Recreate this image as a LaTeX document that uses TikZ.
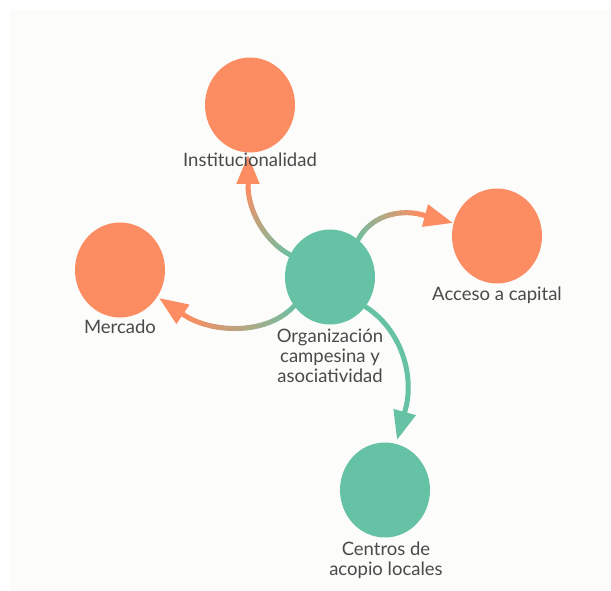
\documentclass[tikz,border=0pt]{standalone}
\usepackage{fontspec}
\setmainfont{Lato}
\usetikzlibrary{shapes.geometric,arrows.meta,decorations.markings}

\definecolor{setgreen}{HTML}{66C2A5}
\definecolor{setorange}{HTML}{FC8D62}
\definecolor{labelgray}{HTML}{4A4A4A}
\definecolor{paper}{HTML}{FCFCFA}

\tikzset{
  factor/.style={ellipse, minimum width=90pt, minimum height=95pt, inner sep=0pt, fill=#1},
  tag/.style={anchor=base, align=center, text=labelgray, inner sep=0pt,
    font=\fontsize{18.5}{20}\selectfont},
  fade/.style={line width=5pt, line cap=round},
  link/.style={line width=5pt, draw=#1, fill=#1, -{Triangle[length=29pt,width=22pt]}},
  ticks/.style={postaction=decorate, decoration={markings,
    mark=between positions 0 and 0.96 step 0.05 with
    {\coordinate (#1\pgfkeysvalueof{/pgf/decoration/mark info/sequence number});}}}
}

\begin{document}
\begin{tikzpicture}[x=1pt, y=-1pt]

\useasboundingbox (0,0) rectangle (611,591);
\fill[paper] (10,10) rectangle (611,591);

\node[factor=setorange] (inst) at (250,105) {};
\node[factor=setorange] (merc) at (120,270) {};
\node[factor=setorange] (acc) at (497,236) {};
\node[factor=setgreen] (org) at (330,277) {};
\node[factor=setgreen] (cen) at (385,490) {};

\coordinate (instbase) at (248,185);
\coordinate (insttip) at (248,155);
\coordinate (accbase) at (423,215);
\coordinate (acctip) at (453,223);
\coordinate (mercbase) at (184,315);
\coordinate (merctip) at (159,298);
\coordinate (cenbase) at (405,411);
\coordinate (centip) at (397,440);

% curves, green fading to orange
\path[ticks=a] (org.151) .. controls (266,242) and (248,212) .. (instbase);
\path[ticks=b] (org.53) .. controls (372,214) and (402,209) .. (accbase);
\path[ticks=c] (org.219) .. controls (265,337) and (209,332) .. (mercbase);

\foreach \e/\b in {a/instbase, b/accbase, c/mercbase}{
  \foreach \i [remember=\i as \j (initially 1), evaluate=\i as \p using {int(5*(\i-1))}] in {2,...,20}
    \draw[fade, setorange!\p!setgreen] (\e\j) -- (\e\i);
  \draw[fade, setorange] (\e20) -- (\b);
}
\draw[fade, setgreen] (org.320) .. controls (402,330) and (415,377) .. (cenbase);

\draw[link=setorange] (instbase) -- (insttip);
\draw[link=setorange] (accbase) -- (acctip);
\draw[link=setorange] (mercbase) -- (merctip);
\draw[link=setgreen] (cenbase) -- (centip);

\node[tag] (instlbl) at (250,167) {Institucionalidad};
\node[tag] (merclbl) at (120,333) {Mercado};
\node[tag] (acclbl) at (497,300) {Acceso a capital};
\node[tag] (orglbl) at (330,382) {Organización\\campesina y\\asociatividad};
\node[tag] (cenlbl) at (386,575) {Centros de\\acopio locales};

\end{tikzpicture}
\end{document}
